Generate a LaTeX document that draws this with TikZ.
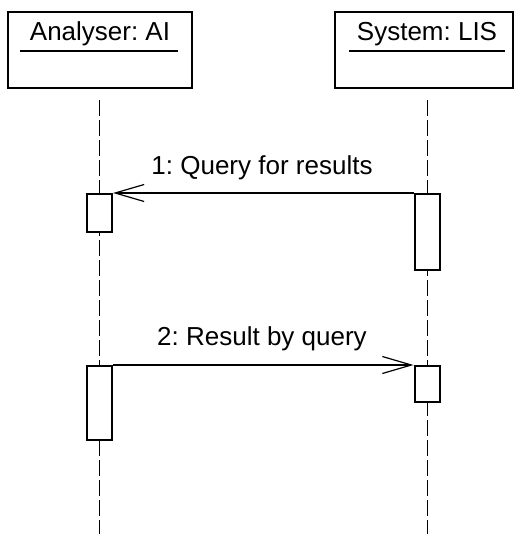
\documentclass[tikz,border=0pt]{standalone}
\usepackage{fontspec}
\setmainfont{Liberation Sans}
\usetikzlibrary{arrows.meta}
\frenchspacing
\begin{document}
\begin{tikzpicture}[x=1pt,y=-1pt,
  headbox/.style={draw,line width=2pt,minimum width=184pt,minimum height=76pt,inner sep=0pt},
  actbox/.style={draw,fill=white,line width=2pt,minimum width=25pt,inner sep=0pt},
  headtext/.style={font=\fontsize{26}{30}\selectfont,anchor=base,inner sep=0pt},
  msgtext/.style={font=\fontsize{26}{30}\selectfont,anchor=base,inner sep=0pt},
  lifeline/.style={line width=1pt,dash pattern=on 16pt off 4pt},
  msg/.style={line width=1.2pt,-{Straight Barb[length=29pt,width=17pt,line width=1.2pt]}},
  uline/.style={line width=1.5pt}]
\useasboundingbox (0,0) rectangle (515,534);
% headers
\node[headbox] (A) at (100,50) {};
\node[headbox,minimum width=178pt] (S) at (424,50) {};
\node[headtext] (At) at (100,41) {Analyser: AI};
\node[headtext] (St) at (427,41) {System: LIS};
\draw[uline] (20,51) -- (178,51);
\draw[uline] (349,51) -- (505,51);
% lifelines
\coordinate (Aend) at (99,534);
\coordinate (Send) at (427,534);
\draw[lifeline] (99,100) -- (Aend);
\draw[lifeline] (427,100) -- (Send);
% activations
\node[actbox,minimum height=38pt] (la1) at (99.5,213) {};
\node[actbox,minimum height=76pt] (ra1) at (427,232) {};
\node[actbox,minimum height=74pt] (la2) at (99.5,403) {};
\node[actbox,minimum height=36pt] (ra2) at (427,384) {};
% messages
\draw[msg] (ra1.north west) -- (la1.north east);
\node[msgtext] (m1) at (262,175) {1: Query for results};
\draw[msg] (la2.north east) -- (ra2.north west);
\node[msgtext] (m2) at (262,345) {2: Result by query};
\end{tikzpicture}
\end{document}
